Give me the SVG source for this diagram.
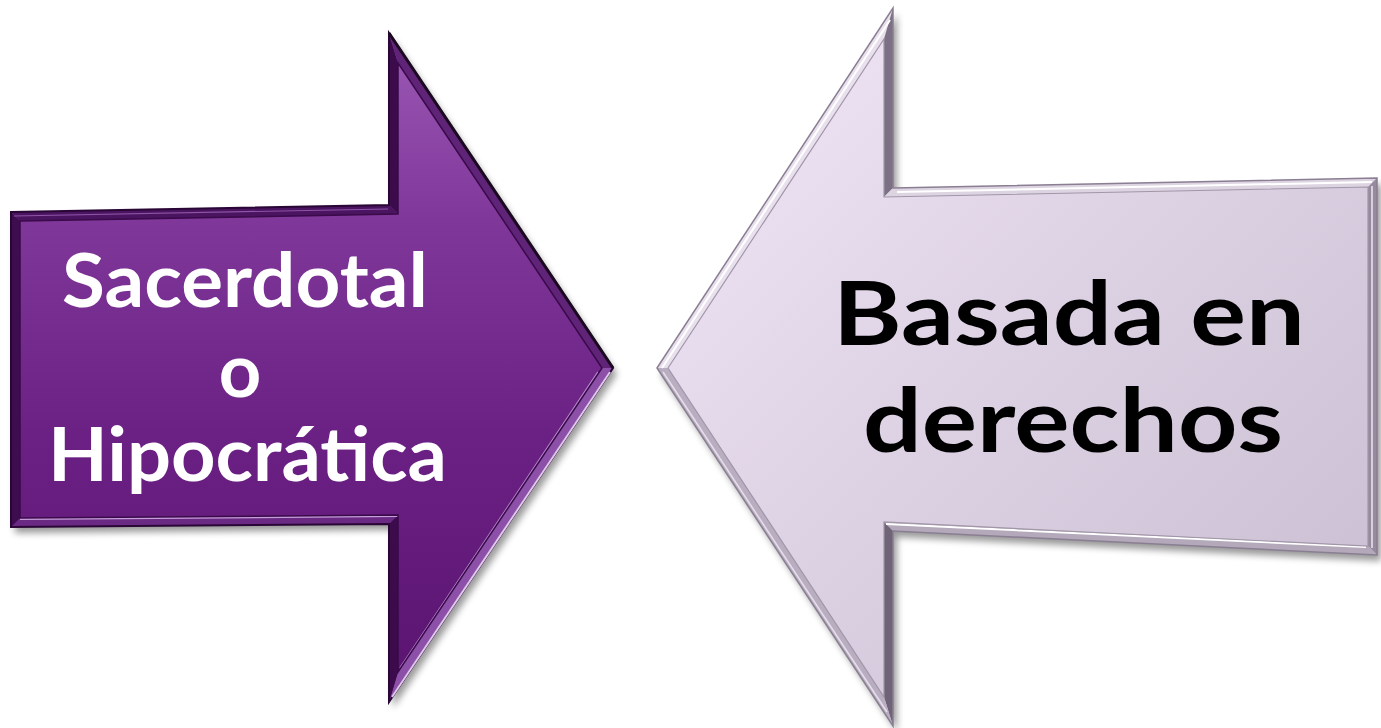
<svg xmlns="http://www.w3.org/2000/svg" width="1381" height="728" viewBox="0 0 1381 728">
<defs>
  <filter id="shadow" x="-10%" y="-10%" width="120%" height="120%">
    <feGaussianBlur stdDeviation="3.5"/>
  </filter>
  <linearGradient id="purpleFill" x1="0" y1="0" x2="0" y2="1">
    <stop offset="0" stop-color="#9c5ab5"/>
    <stop offset="0.28" stop-color="#80379a"/>
    <stop offset="0.6" stop-color="#6b2184"/>
    <stop offset="1" stop-color="#5a1370"/>
  </linearGradient>
  <linearGradient id="lilacFill" x1="0" y1="0" x2="1" y2="1">
    <stop offset="0" stop-color="#f2e9f8"/>
    <stop offset="0.5" stop-color="#dcd0e3"/>
    <stop offset="1" stop-color="#c8bcd0"/>
  </linearGradient>
  <style>
    .shadow { fill: #000; opacity: 0.4; filter: url(#shadow); }
    .lbl-left { font-family: Lato, "Liberation Sans", sans-serif; font-weight: bold; font-size: 74px; fill: #ffffff; }
    .lbl-right { font-family: Lato, "Liberation Sans", sans-serif; font-weight: bold; font-size: 88px; fill: #000000; }
  </style>
</defs>
<rect width="1381" height="728" fill="#ffffff"/>

<g id="connectors"/>

<g id="node-left">
  <polygon class="shadow" transform="translate(4,6)" points="11,212 389,205 389,33 613,368 389,702 389,524 11,527"/>
  <polygon points="11,212 389,205 389,33 613,368 389,702 389,524 11,527" fill="url(#purpleFill)"/>
  <polygon points="11,212 389,205 398,214 20,221" fill="#4a1460"/>
  <polygon points="389,205 389,33 398,63 398,214" fill="#3c0b4c"/>
  <polygon points="389,33 613,368 602,368 398,63" fill="#5f2378"/>
  <polygon points="613,368 389,702 398,672 602,368" fill="#8c50a8"/>
  <polygon points="389,702 389,524 398,515 398,672" fill="#3c0b4c"/>
  <polygon points="389,524 11,527 20,518 398,515" fill="#6a2a84"/>
  <polygon points="11,527 11,212 20,221 20,518" fill="#3e0d50"/>
  <polygon points="11,212 389,205 389,33 613,368 389,702 389,524 11,527" fill="none" stroke="#2a0636" stroke-width="2"/>
  <polyline points="389,33 613,368" fill="none" stroke="#1c0a20" stroke-width="3"/>
  <polyline points="610,372 392,697" fill="none" stroke="#e2c8ee" stroke-width="2"/>
  <polyline points="598,372 400,668" fill="none" stroke="#b78ad0" stroke-width="1.5"/>
  <polyline points="20,519 398,516" fill="none" stroke="#c79edb" stroke-width="2"/>
  <polyline points="14,216 388,209" fill="none" stroke="#8e54a6" stroke-width="1.2"/>
  <polygon points="20,221 398,214 398,63 602,368 398,672 398,515 20,518" fill="none" stroke="#3a0a4a" stroke-width="1.5"/>
  <text class="lbl-left" x="62" y="307" textLength="366" lengthAdjust="spacingAndGlyphs">Sacerdotal</text>
  <text class="lbl-left" x="240" y="397" text-anchor="middle">o</text>
  <text class="lbl-left" x="48" y="481" textLength="399" lengthAdjust="spacingAndGlyphs">Hipocrática</text>
</g>

<g id="node-right">
  <polygon class="shadow" transform="translate(4,6)" points="657,368 893,8 893,188 1377,178 1377,555 893,531 893,726"/>
  <polygon points="657,368 893,8 893,188 1377,178 1377,555 893,531 893,726" fill="url(#lilacFill)"/>
  <polygon points="657,368 893,8 884,39 668,368" fill="#e9e0ee"/>
  <polygon points="893,8 893,188 884,197 884,39" fill="#7c7084"/>
  <polygon points="893,188 1377,178 1368,187 884,197" fill="#ddd4e2"/>
  <polygon points="1377,178 1377,555 1368,546 1368,187" fill="#968a9e"/>
  <polygon points="1377,555 893,531 884,522 1368,546" fill="#b4a9bb"/>
  <polygon points="893,531 893,726 884,697 884,522" fill="#6f6377"/>
  <polygon points="893,726 657,368 668,368 884,697" fill="#b9aec1"/>
  <polygon points="657,368 893,8 893,188 1377,178 1377,555 893,531 893,726" fill="none" stroke="#8a7e92" stroke-width="1.5"/>
  <polyline points="662,368 890,20" fill="none" stroke="#ffffff" stroke-width="2"/>
  <polyline points="897,192 1372,182" fill="none" stroke="#ffffff" stroke-width="2"/>
  <polyline points="1372,186 1372,548" fill="none" stroke="#ece6ef" stroke-width="1.5"/>
  <polyline points="886,524 1366,547" fill="none" stroke="#ffffff" stroke-width="2"/>
  <polyline points="663,372 887,712" fill="none" stroke="#e6dfea" stroke-width="1.5"/>
  <polygon points="668,368 884,39 884,197 1368,187 1368,546 884,522 884,697" fill="none" stroke="#a196a8" stroke-width="1.2"/>
  <text class="lbl-right" x="833" y="345" textLength="472" lengthAdjust="spacingAndGlyphs">Basada en</text>
  <text class="lbl-right" x="863" y="452" textLength="420" lengthAdjust="spacingAndGlyphs">derechos</text>
</g>
</svg>
